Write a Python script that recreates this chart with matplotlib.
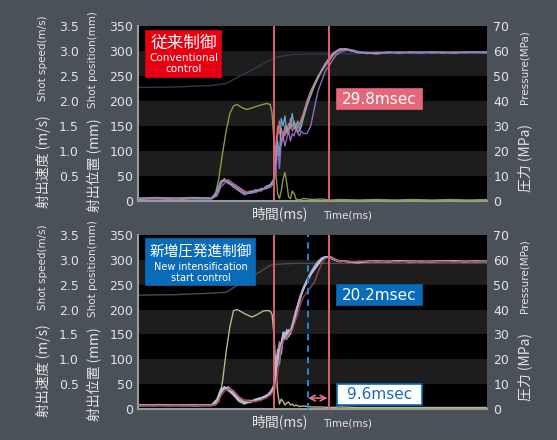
import matplotlib
matplotlib.use("Agg")
import matplotlib.pyplot as plt
from matplotlib.patches import Rectangle

plt.rcParams['font.family'] = ['DejaVu Sans', 'Noto Sans CJK JP']
JP = ['Noto Sans CJK JP', 'DejaVu Sans']

# ---- data (time in ms) ----
mm_ticks = [0, 50, 100, 150, 200, 250, 300, 350]
speed_ticks = [0.5, 1.0, 1.5, 2.0, 2.5, 3.0, 3.5]
speed_labels = ['0.5', '1.0', '1.5', '2.0', '2.5', '3.0', '3.5']
press_ticks = [0, 10, 20, 30, 40, 50, 60, 70]

# pressure runs (MPa)
t_press = [0, 8, 16, 24, 32, 40, 43, 45, 47, 49, 52, 55, 58, 61, 64, 67, 70, 72,
           74, 75, 76, 77, 78, 79, 80, 81, 82, 83, 84, 85, 86, 87, 88, 89, 90,
           92, 94, 96, 98, 100, 102, 104, 106, 108, 110, 113, 116, 120, 125, 130,
           136, 142, 148, 154, 160, 166, 172, 178, 184, 190]

top_p1 = [0.8, 1.0, 0.7, 1.1, 0.9, 1.0, 3.0, 7.5, 9.0, 7.0, 6.5, 4.5, 3.0, 4.0, 3.5, 4.5, 5.5, 6.0,
          7.5, 22, 30, 27, 29, 24, 30, 28, 31, 29, 30, 32, 28, 30, 31, 33, 35,
          40, 44, 47, 50, 52, 54, 56, 58, 59.5, 60.5, 61, 60.5, 59.5, 59.2, 58.8,
          59.5, 59.3, 59.6, 59.4, 59.5, 59.2, 59.6, 59.4, 59.5, 59.3]
top_p2 = [1.0, 0.8, 1.2, 0.9, 1.1, 0.8, 2.5, 6.5, 8.5, 8.0, 6.0, 5.0, 3.5, 3.0, 4.0, 5.0, 5.0, 6.5,
          8.0, 18, 26, 32, 22, 28, 26, 30, 27, 33, 28, 29, 31, 27, 29, 32, 34,
          39, 43, 46, 49, 52, 55, 57, 58.5, 60, 61, 60.8, 60.2, 59.2, 59.5, 59.0,
          59.3, 59.6, 59.3, 59.6, 59.3, 59.5, 59.3, 59.6, 59.3, 59.5]
top_p3 = [0.6, 1.1, 0.9, 0.7, 1.2, 1.1, 4.0, 8.0, 8.0, 7.5, 5.5, 4.0, 2.5, 3.5, 4.5, 4.0, 6.0, 6.5,
          9.0, 15, 24, 18, 33, 30, 34, 27, 29, 30, 35, 29, 30, 32, 28, 30, 33,
          38, 42, 46, 49.5, 52.5, 55, 57, 59, 60, 60.3, 60.6, 60.0, 59.6, 59.0, 59.3,
          59.6, 59.2, 59.5, 59.2, 59.6, 59.4, 59.2, 59.5, 59.6, 59.4]
top_p4 = [0.9, 1.2, 0.8, 1.0, 0.8, 0.9, 2.0, 5.5, 7.0, 8.5, 7.0, 5.5, 4.0, 3.0, 3.5, 4.5, 5.0, 5.5,
          7.0, 12, 22, 13, 24, 26, 22, 25, 28, 24, 27, 26, 29, 27, 26, 28, 27,
          27, 30, 37, 44, 48, 52, 54, 56.5, 58.5, 59.5, 60.2, 60.5, 59.8, 59.3, 59.5,
          59.2, 59.5, 59.3, 59.5, 59.3, 59.6, 59.4, 59.3, 59.5, 59.6]

bot_p1 = [1.4, 1.5, 1.3, 1.6, 1.4, 1.5, 3.5, 7.0, 9.0, 8.0, 6.0, 3.5, 2.5, 3.0, 3.5, 4.0, 5.0, 6.5,
          8.0, 14, 20, 24, 27, 30, 29, 31, 30, 31, 33, 36, 39, 42, 44, 46, 48,
          51, 54, 56.5, 58.5, 60.2, 61.0, 61.5, 60.8, 60.0, 59.6, 59.4, 59.0, 58.8, 59.3, 59.5,
          59.2, 59.5, 59.3, 59.4, 59.2, 59.5, 59.3, 59.5, 59.2, 59.3]
bot_p2 = [1.3, 1.6, 1.4, 1.3, 1.5, 1.4, 3.0, 6.5, 8.5, 8.5, 6.5, 4.0, 3.0, 2.5, 3.5, 4.5, 5.5, 7.0,
          9.0, 16, 18, 25, 22, 28, 31, 29, 32, 30, 34, 37, 40, 42, 45, 47, 49,
          52, 54.5, 57, 59, 60.5, 61.2, 61.3, 60.5, 59.8, 59.4, 59.6, 59.2, 59.0, 59.4, 59.3,
          59.5, 59.3, 59.6, 59.3, 59.5, 59.3, 59.5, 59.2, 59.4, 59.5]
bot_p3 = [1.5, 1.3, 1.5, 1.4, 1.3, 1.6, 4.0, 8.0, 8.5, 7.5, 5.5, 3.0, 2.0, 3.0, 4.0, 4.5, 5.5, 6.0,
          10, 17, 24, 18, 26, 31, 28, 32, 29, 31, 32, 35, 38, 41, 43, 46, 48,
          51.5, 54, 56, 58, 60, 61.2, 61.0, 60.3, 59.7, 59.3, 59.5, 59.0, 59.2, 59.5, 59.2,
          59.4, 59.6, 59.2, 59.5, 59.3, 59.4, 59.6, 59.3, 59.5, 59.4]
bot_p4 = [1.4, 1.4, 1.6, 1.5, 1.4, 1.3, 2.5, 6.0, 8.0, 9.0, 7.0, 4.5, 3.5, 3.5, 3.0, 4.0, 5.0, 6.5,
          8.5, 12, 22, 27, 24, 29, 30, 28, 31, 32, 34, 36, 38, 41, 44, 46, 48.5,
          52, 55, 57.5, 59.5, 60.8, 61.3, 60.8, 60.2, 59.6, 59.5, 59.3, 59.1, 59.4, 59.2, 59.6,
          59.3, 59.4, 59.5, 59.2, 59.4, 59.6, 59.3, 59.4, 59.6, 59.3]
bot_p5 = [1.4, 1.5, 1.4, 1.5, 1.5, 1.4, 2.0, 5.0, 7.0, 8.0, 7.5, 5.0, 3.5, 3.0, 3.0, 3.5, 4.5, 5.5,
          7.0, 9.0, 14, 20, 25, 27, 28, 29, 30, 31, 32, 34, 36, 38, 41, 43, 45,
          47, 49, 51, 55, 58.5, 60.5, 61.0, 60.5, 59.8, 59.4, 59.5, 59.2, 59.3, 59.4, 59.3,
          59.5, 59.2, 59.4, 59.5, 59.3, 59.4, 59.2, 59.5, 59.3, 59.4]

# shot speed (m/s)
t_speed = [0, 10, 20, 30, 40, 42, 44, 46, 48, 50, 52, 54, 56, 59, 62, 65, 68, 70, 72, 73,
           74, 75, 76, 77, 78, 79, 80, 81, 82, 83, 84, 85, 86, 88, 90, 95, 100, 105, 110,
           120, 130, 140, 150, 160, 170, 180, 190]
top_speed = [0.06, 0.07, 0.06, 0.07, 0.06, 0.12, 0.45, 0.95, 1.40, 1.75, 1.90, 1.93, 1.88, 1.83,
             1.86, 1.90, 1.93, 1.95, 1.93, 1.75, 1.20, 0.60, 0.15, 0.05, 0.20, 0.45, 0.57, 0.35,
             0.08, 0.05, 0.20, 0.15, 0.04, 0.02, 0.05, 0.03, 0.04, 0.02, 0.03, 0.02, 0.03, 0.02,
             0.03, 0.02, 0.03, 0.02, 0.03]
bot_speed = [0.08, 0.09, 0.08, 0.09, 0.08, 0.08, 0.15, 0.55, 1.15, 1.65, 1.98, 2.00, 1.96, 1.90,
             1.85, 1.90, 1.97, 1.98, 1.97, 1.90, 1.50, 0.90, 0.35, 0.10, 0.20, 0.15, 0.08, 0.12,
             0.14, 0.08, 0.10, 0.06, 0.08, 0.05, 0.06, 0.04, 0.04, 0.03, 0.04, 0.03, 0.03, 0.03,
             0.03, 0.03, 0.03, 0.03, 0.03]

# shot position (mm)
t_pos = [0, 20, 40, 48, 55, 60, 65, 70, 72, 75, 80, 85, 90, 100, 120, 150, 190]
top_pos = [227, 228, 231, 235, 249, 258, 268, 278, 282, 287, 291, 293, 294, 294, 295, 295, 295]
bot_pos = [229, 230, 233, 235, 251, 262, 273, 284, 289, 291, 292, 293, 293, 293, 293, 293, 293]

line_t1 = 74
line_t2 = 104
start_t = 92.5

BG = '#4b5159'
TXT = '#e4e4e4'
fig = plt.figure(figsize=(5.57, 4.40), dpi=100, facecolor=BG)


def fx(px):
    return px / 557


def fy(py):
    return 1 - py / 440


def panel(top, bottom, pos, speed, runs, run_colors, pos_color, speed_color):
    ax = fig.add_axes([fx(138), fy(bottom), fx(487) - fx(138), fy(top) - fy(bottom)])
    ax.set_xlim(0, 190)
    ax.set_ylim(0, 350)
    for k, lo in enumerate(range(0, 350, 50)):
        ax.axhspan(lo, lo + 50, color='#000000' if k % 2 == 0 else '#1d1d1d', lw=0)
    ax.plot(t_pos, pos, color=pos_color, lw=1)
    ax.set_xticks([])
    ax.set_yticks(mm_ticks)
    ax.tick_params(axis='y', length=0, pad=3.5, labelsize=9, labelcolor=TXT)
    for s in ['top', 'right']:
        ax.spines[s].set_visible(False)
    for s in ['left', 'bottom']:
        ax.spines[s].set_color('#9a9a9a')
        ax.spines[s].set_linewidth(1.5)

    axs = ax.twinx()
    axs.set_ylim(0, 3.5)
    axs.yaxis.tick_left()
    axs.spines['left'].set_position(('outward', 39))
    for s in axs.spines.values():
        s.set_visible(False)
    axs.set_yticks(speed_ticks, speed_labels)
    axs.tick_params(axis='y', length=0, pad=3.5, labelsize=9, labelcolor=TXT)
    axs.plot(t_speed, speed, color=speed_color, lw=1)

    axp = ax.twinx()
    axp.set_ylim(0, 70)
    axp.set_xlim(0, 190)
    for s in axp.spines.values():
        s.set_visible(False)
    axp.set_yticks(press_ticks)
    axp.tick_params(axis='y', length=0, pad=4.5, labelsize=9, labelcolor=TXT)
    for r, c in zip(runs, run_colors):
        axp.plot(t_press, r, color=c, lw=1.0, alpha=0.9)
    axp.axvline(line_t1, color='#e06072', lw=1.4)
    axp.axvline(line_t2, color='#e06072', lw=1.4)

    # axis labels
    fig.text(fx(43), fy(top + 32), 'Shot speed(m/s)', rotation=90, ha='center', va='center',
             fontsize=7.5, color=TXT)
    fig.text(fx(43), fy(top + 136), '射出速度 (m/s)', rotation=90, ha='center', va='center',
             fontsize=10, color=TXT, family=JP)
    fig.text(fx(93), fy(top + 34), 'Shot position(mm)', rotation=90, ha='center', va='center',
             fontsize=7.5, color=TXT)
    fig.text(fx(94), fy(top + 139), '射出位置 (mm)', rotation=90, ha='center', va='center',
             fontsize=10, color=TXT, family=JP)
    fig.text(fx(525), fy(top + 41), 'Pressure(MPa)', rotation=90, ha='center', va='center',
             fontsize=7.5, color=TXT)
    fig.text(fx(525), fy(top + 132), '圧力 (MPa)', rotation=90, ha='center', va='center',
             fontsize=10, color=TXT, family=JP)
    fig.text(fx(280), fy(bottom + 13), '時間(ms)', ha='center', va='center',
             fontsize=10, color=TXT, family=JP)
    fig.text(fx(348), fy(bottom + 14), 'Time(ms)', ha='center', va='center',
             fontsize=7.5, color=TXT)
    return axp


def box(x0, y0, x1, y1, fc, ec=None):
    fig.add_artist(Rectangle((fx(x0), fy(y1)), fx(x1) - fx(x0), fy(y0) - fy(y1),
                             transform=fig.transFigure, facecolor=fc,
                             edgecolor=ec if ec else fc, lw=1.2))


# top panel: conventional control
panel(26, 201, top_pos, top_speed, [top_p1, top_p2, top_p3, top_p4],
      ['#e8884a', '#d8709a', '#6ab4e0', '#9a78c8'], '#2c3a52', '#8c9a40')
box(146, 31, 221, 77, '#e60012')
fig.text(fx(183.5), fy(43), '従来制御', ha='center', va='center', fontsize=12, color='white', family=JP)
fig.text(fx(183.5), fy(58), 'Conventional', ha='center', va='center', fontsize=7.5, color='white')
fig.text(fx(183.5), fy(69), 'control', ha='center', va='center', fontsize=7.5, color='white')
box(337, 89, 422, 109, '#e5687a')
fig.text(fx(379.5), fy(99), '29.8msec', ha='center', va='center', fontsize=11, color='white')

# bottom panel: new intensification start control
axp2 = panel(235, 409, bot_pos, bot_speed, [bot_p1, bot_p2, bot_p3, bot_p4, bot_p5],
             ['#d8d8d8', '#e0a8c8', '#a8dce8', '#b4a4e0', '#a84848'], '#4e4a48', '#b8b888')
axp2.axvline(start_t, color='#1f86d6', lw=1.5, ls=(0, (3, 2.5)))
axp2.annotate('', xy=(start_t, 4.4), xytext=(line_t2 - 0.8, 4.4),
              arrowprops=dict(arrowstyle='<->', color='#e8708a', lw=1.2, shrinkA=0, shrinkB=0))
box(146, 239, 255, 285, '#0a6cb8')
fig.text(fx(200.5), fy(252), '新増圧発進制御', ha='center', va='center', fontsize=10.5, color='white', family=JP)
fig.text(fx(200.5), fy(267), 'New intensification', ha='center', va='center', fontsize=7, color='white')
fig.text(fx(200.5), fy(278), 'start control', ha='center', va='center', fontsize=7, color='white')
box(337, 285, 422, 305, '#0a6cb8')
fig.text(fx(379.5), fy(295), '20.2msec', ha='center', va='center', fontsize=11, color='white')
box(337, 384, 422, 405, 'white', '#0a6cb8')
fig.text(fx(379.5), fy(394.5), '9.6msec', ha='center', va='center', fontsize=11, color='#1a6cb8')

fig.savefig('out.png', dpi=100, facecolor=BG)
